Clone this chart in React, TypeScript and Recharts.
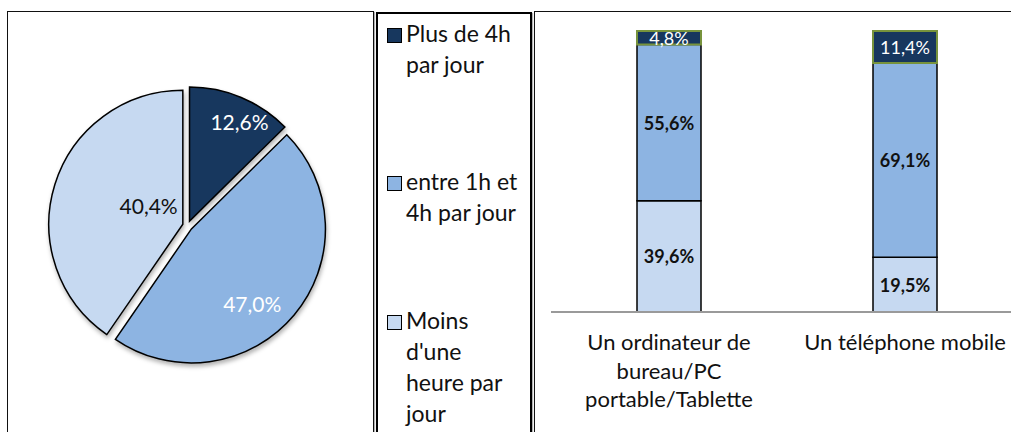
import React from 'react';
import { PieChart, Pie, Cell, Legend, BarChart, Bar, XAxis, YAxis, LabelList } from 'recharts';

// usage time shares (pie), in %
const seriesNames = ['Plus de 4h par jour', 'entre 1h et 4h par jour', "Moins d'une heure par jour"];
const legendLines = [['Plus de 4h', 'par jour'], ['entre 1h et', '4h par jour'], ['Moins', "d'une", 'heure par', 'jour']];
const pieValues = [12.6, 47.0, 40.4];

// per device, in %
const devices = ['Un ordinateur de bureau/PC portable/Tablette', 'Un téléphone mobile'];
const deviceLines = [['Un ordinateur de', 'bureau/PC', 'portable/Tablette'], ['Un téléphone mobile']];
const plusDe4h = [4.8, 11.4];
const entre1hEt4h = [55.6, 69.1];
const moinsDUneHeure = [39.6, 19.5];

const COLORS = ['#17375E', '#8DB4E2', '#C6D9F1'];
const FONT = 'Lato, sans-serif';

const fmt = (v: number) => v.toFixed(1).replace('.', ',') + '%';

const pieData = seriesNames.map((name, i) => ({ name, value: pieValues[i] }));
const barData = devices.map((device, i) => ({
  device,
  moins: moinsDUneHeure[i],
  entre: entre1hEt4h[i],
  plus: plusDe4h[i],
}));

// pie layout
const CX = 187.6;
const CY = 225.7;
const R = 134;
const EXPLODE = 5;
const labelPlace = [
  { dist: 0.83, shift: -4, color: '#fff' },
  { dist: 0.72, shift: -11, color: '#fff' },
  { dist: 0.29, shift: -11, color: '#111' },
];
const legendTops = [6, 154, 293];

const total = pieValues.reduce((a, b) => a + b, 0);
const explodeOffsets = pieValues.map((v, i) => {
  const before = pieValues.slice(0, i).reduce((a, b) => a + b, 0);
  const mid = ((90 - (360 * (before + v / 2)) / total) * Math.PI) / 180;
  return { dx: EXPLODE * Math.cos(mid), dy: -EXPLODE * Math.sin(mid) };
});

const makePieLabel = (target: number) => (props: any) => {
  if (props.index !== target) return null;
  const p = labelPlace[target];
  const a = ((props.midAngle + p.shift) * Math.PI) / 180;
  const x = props.cx + Math.cos(a) * props.outerRadius * p.dist;
  const y = props.cy - Math.sin(a) * props.outerRadius * p.dist;
  return (
    <text x={x} y={y} fill={p.color} fontSize={21} fontFamily={FONT} textAnchor="middle" dominantBaseline="central">
      {fmt(props.value)}
    </text>
  );
};

const renderLegend = () => (
  <div style={{ position: 'relative', width: '100%', height: '100%', fontFamily: FONT, fontSize: 23, lineHeight: '31px', color: '#111' }}>
    {seriesNames.map((name, i) => (
      <div key={name} style={{ position: 'absolute', left: 11, top: legendTops[i], display: 'flex' }}>
        <div
          style={{
            width: 13,
            height: 13,
            marginTop: 10,
            marginRight: 4,
            background: COLORS[i],
            border: '1px solid #000',
            flex: 'none',
          }}
        />
        <div>
          {legendLines[i].map((l) => (
            <div key={l} style={{ whiteSpace: 'nowrap' }}>{l}</div>
          ))}
        </div>
      </div>
    ))}
  </div>
);

const DeviceTick = (props: any) => {
  const { x, y, payload } = props;
  const lines = deviceLines[payload.index] ?? [payload.value];
  return (
    <g>
      {lines.map((l: string, i: number) => (
        <text key={l} x={x} y={y + 38 + i * 28.5} textAnchor="middle" fontSize={22} fontFamily={FONT} fill="#111">
          {l}
        </text>
      ))}
    </g>
  );
};

const segLabel = (dark: boolean) => (props: any) => {
  const { x, y, width, height, value } = props;
  return (
    <text
      x={x + width / 2}
      y={y + height / 2}
      textAnchor="middle"
      dominantBaseline="central"
      fontFamily={FONT}
      fontSize={18}
      fontWeight={dark ? 400 : 700}
      fill={dark ? '#fff' : '#111'}
    >
      {fmt(value)}
    </text>
  );
};

const box = (left: number, top: number, width: number, border: string): React.CSSProperties => ({
  position: 'absolute',
  left,
  top,
  width,
  height: 500,
  boxSizing: 'border-box',
  border,
  boxShadow: '1px 1px 1px rgba(0,0,0,0.3)',
});

export default function App() {
  return (
    <div style={{ position: 'absolute', left: 0, top: 0, width: 1011, height: 432, overflow: 'hidden', background: '#fff', fontFamily: FONT }}>
      <style>{`.pie-shadow .recharts-sector { filter: drop-shadow(1px 3px 2px rgba(0,0,0,0.3)); }`}</style>
      <div style={box(7, 10.5, 367, '1.5px solid #111')} />
      <div style={box(375.5, 11.5, 156, '2px solid #000')} />
      <div style={box(534, 11, 600, '1.5px solid #111')} />

      <div className="pie-shadow" style={{ position: 'absolute', left: 0, top: 0 }}>
        <PieChart width={531} height={432} margin={{ top: 0, right: 0, bottom: 0, left: 0 }}>
          {pieValues.map((_, t) => (
            <Pie
              key={t}
              data={pieData}
              dataKey="value"
              nameKey="name"
              cx={CX + explodeOffsets[t].dx}
              cy={CY + explodeOffsets[t].dy}
              outerRadius={R}
              startAngle={90}
              endAngle={-270}
              isAnimationActive={false}
              labelLine={false}
              label={makePieLabel(t)}
              legendType={t === 0 ? 'square' : 'none'}
            >
              {pieData.map((d, j) => (
                <Cell
                  key={d.name}
                  fill={j === t ? COLORS[j] : 'transparent'}
                  stroke={j === t ? '#000' : 'none'}
                  strokeWidth={1.5}
                />
              ))}
            </Pie>
          ))}
          <Legend
            content={renderLegend}
            wrapperStyle={{ position: 'absolute', left: 376, top: 12, width: 154, height: 420 }}
          />
        </PieChart>
      </div>

      <div style={{ position: 'absolute', left: 536, top: 12 }}>
        <BarChart width={500} height={420} data={barData} margin={{ top: 19, right: 13, left: 15, bottom: 0 }}>
          <XAxis
            dataKey="device"
            height={120}
            tickLine={false}
            tickSize={0}
            tickMargin={0}
            axisLine={{ stroke: '#9a9a9a', strokeWidth: 2 }}
            tick={<DeviceTick />}
            interval={0}
          />
          <YAxis hide domain={[0, 100]} />
          <Bar dataKey="moins" stackId="a" fill={COLORS[2]} stroke="#000" strokeWidth={1.5} barSize={64} isAnimationActive={false}>
            <LabelList dataKey="moins" content={segLabel(false)} />
          </Bar>
          <Bar dataKey="entre" stackId="a" fill={COLORS[1]} stroke="#000" strokeWidth={1.5} barSize={64} isAnimationActive={false}>
            <LabelList dataKey="entre" content={segLabel(false)} />
          </Bar>
          <Bar dataKey="plus" stackId="a" fill={COLORS[0]} stroke="#77933C" strokeWidth={2} barSize={64} isAnimationActive={false}>
            <LabelList dataKey="plus" content={segLabel(true)} />
          </Bar>
        </BarChart>
      </div>
    </div>
  );
}
